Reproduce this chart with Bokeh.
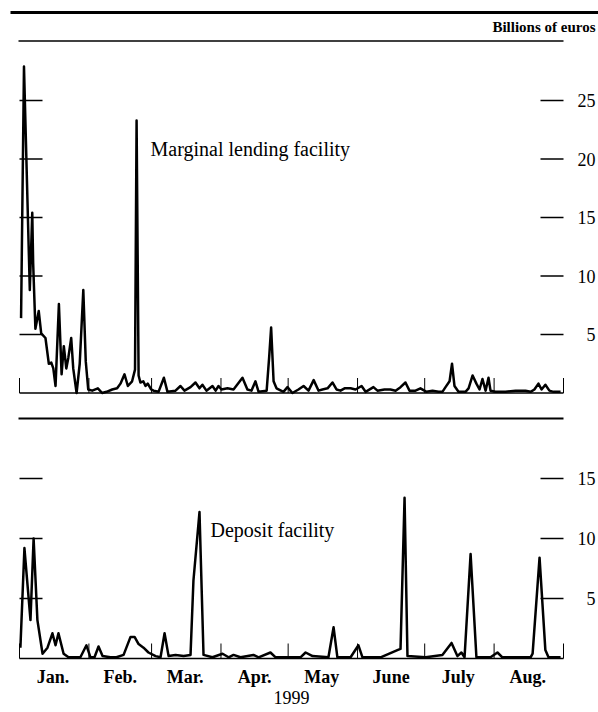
from bokeh.plotting import figure
from bokeh.models import Range1d
from bokeh.core.properties import value
from bokeh.embed import file_html
from bokeh.resources import INLINE

FONT = "Liberation Serif"

# x axis: day of 1999 (0 = 1 Jan)
month_start_days = [0, 31, 59, 90, 120, 151, 181, 212, 243]
month_mid_days = [15, 45, 74, 105, 135, 166, 196, 227]
month_labels = ["Jan.", "Feb.", "Mar.", "Apr.", "May", "June", "July", "Aug."]
year_label = "1999"

top_ticks = [5, 10, 15, 20, 25]
top_tick_labels = ["5", "10", "15", "20", "25"]
bot_ticks = [5, 10, 15]
bot_tick_labels = ["5", "10", "15"]

unit_label = "Billions of euros"
mlf_label = "Marginal lending facility"
dep_label = "Deposit facility"

# Marginal lending facility (billions of euros)
mlf_day = [0.7, 2.0, 4.6, 5.7, 6.1, 7.1, 8.6, 9.7, 11.6, 13.1, 14.2, 15.1, 16.1, 17.6,
           18.8, 19.8, 20.9, 21.8, 23.1, 24.0, 25.5, 26.9, 28.5, 29.6, 30.7, 32.5, 35.0,
           36.9, 38.9, 41.4, 43.6, 45.1, 46.9, 48.4, 50.3, 51.6, 52.3, 53.2, 54.0, 55.3,
           56.3, 57.3, 58.8, 59.9, 62.1, 64.5, 66.1, 69.7, 71.9, 73.7, 76.4, 78.6, 80.4,
           81.7, 83.5, 86.2, 87.6, 88.9, 90.2, 92.9, 95.6, 99.6, 101.8, 103.6, 105.4,
           106.8, 110.4, 111.5, 112.4, 113.5, 114.8, 117.9, 119.7, 121.9, 124.6, 126.9,
           129.1, 131.4, 133.6, 135.3, 137.6, 139.8, 141.6, 143.4, 145.2, 147.9, 150.1,
           152.8, 154.6, 158.1, 159.9, 163.0, 165.7, 168.0, 170.2, 172.4, 174.2, 176.9,
           179.1, 181.8, 184.5, 187.2, 188.9, 190.3, 192.1, 193.2, 194.3, 196.1, 199.2,
           200.6, 202.4, 204.1, 205.5, 206.8, 208.2, 209.5, 210.4, 212.6, 217.1, 221.6,
           226.0, 228.3, 230.0, 231.8, 233.2, 234.9, 236.7, 238.5, 241.7]
mlf_val = [6.4, 27.9, 8.8, 15.4, 11.1, 5.5, 7.0, 5.1, 4.7, 2.5, 2.6, 2.1, 0.6, 7.6,
           1.6, 4.0, 2.1, 3.0, 4.7, 2.1, 0.0, 2.5, 8.8, 2.7, 0.3, 0.2, 0.4,
           0.0, 0.1, 0.3, 0.4, 0.8, 1.6, 0.6, 1.0, 2.0, 23.3, 1.5, 0.9, 1.0,
           0.6, 0.8, 0.3, 0.2, 0.1, 1.3, 0.1, 0.2, 0.6, 0.2, 0.5, 0.9, 0.4,
           0.7, 0.2, 0.6, 0.2, 0.6, 0.3, 0.4, 0.3, 1.3, 0.3, 0.2, 1.0,
           0.1, 0.2, 3.0, 5.6, 1.0, 0.4, 0.1, 0.5, 0.0, 0.3, 0.6,
           0.2, 1.1, 0.2, 0.3, 0.4, 0.9, 0.3, 0.2, 0.4, 0.4, 0.3,
           0.6, 0.1, 0.5, 0.2, 0.3, 0.3, 0.2, 0.5, 0.9, 0.2, 0.2,
           0.4, 0.1, 0.2, 0.1, 0.1, 0.5, 1.0, 2.5, 0.6, 0.1, 0.1,
           0.4, 1.5, 0.8, 0.3, 1.2, 0.2, 1.3, 0.2, 0.1, 0.1, 0.2,
           0.2, 0.1, 0.3, 0.8, 0.3, 0.7, 0.2, 0.1, 0.1]

# Deposit facility (billions of euros)
dep_day = [0.4, 2.2, 4.9, 6.3, 8.0, 10.3, 12.5, 14.7, 16.1, 17.4, 19.7, 21.9, 27.2, 29.9,
           31.7, 33.5, 35.3, 37.1, 40.6, 43.3, 46.5, 49.6, 51.4, 53.2, 55.4, 57.6, 60.8,
           63.0, 64.8, 66.6, 69.7, 73.3, 76.4, 77.7, 80.4, 82.2, 86.2, 90.7, 93.4, 95.6,
           98.7, 104.5, 106.8, 112.1, 114.4, 121.0, 125.5, 127.8, 130.9, 138.0, 140.3,
           142.0, 147.9, 151.4, 153.2, 161.3, 168.8, 170.2, 172.0, 173.3, 181.4, 188.9,
           193.0, 195.6, 197.4, 198.8, 201.5, 204.1, 210.4, 213.5, 215.7, 228.3, 229.2,
           232.3, 234.9, 236.3, 241.7]
dep_val = [0.9, 9.2, 3.2, 10.0, 3.2, 0.4, 0.9, 2.1, 1.1, 2.1, 0.4, 0.1, 0.1, 1.1,
           0.1, 0.1, 1.0, 0.2, 0.1, 0.1, 0.3, 1.8, 1.8, 1.2, 0.9, 0.5, 0.2,
           0.1, 2.1, 0.2, 0.3, 0.2, 0.3, 6.5, 12.2, 0.3, 0.1, 0.4, 0.1, 0.3,
           0.1, 0.3, 0.1, 0.5, 0.1, 0.1, 0.1, 0.5, 0.2, 0.1, 2.6,
           0.1, 0.1, 1.1, 0.1, 0.1, 0.7, 0.8, 13.4, 0.2, 0.1, 0.3,
           1.3, 0.2, 0.5, 0.1, 8.7, 0.1, 0.1, 0.5, 0.1, 0.1, 0.4,
           8.4, 0.7, 0.1, 0.1]

# ---- layout (pixel geometry of the page) ----
W, H = 598, 708
X0_PX, X1_PX = 19, 563          # horizontal extent of the day axis 0..243
DAYS = 243
PPD = (X1_PX - X0_PX) / DAYS
TOP_ZERO_PX, TOP_PPU = 392.5, 11.7
BOT_ZERO_PX, BOT_PPU = 658.0, 12.0


def dx(px):
    return (px - X0_PX) / PPD


def ty(py):
    return (TOP_ZERO_PX - py) / TOP_PPU


def by(py):
    return (BOT_ZERO_PX - py) / BOT_PPU


p = figure(width=W, height=H, output_backend="svg", toolbar_location=None,
           x_range=Range1d(dx(0), dx(W)), y_range=Range1d(ty(H), ty(0)),
           x_axis_location=None, y_axis_location=None,
           min_border_left=0, min_border_right=0, min_border_top=0, min_border_bottom=0)
p.extra_y_ranges = {"bot": Range1d(by(H), by(0))}
p.xgrid.grid_line_color = None
p.ygrid.grid_line_color = None
p.outline_line_color = None
p.background_fill_color = "white"
p.border_fill_color = "white"

TXT = dict(text_font=value(FONT), text_color="black", text_baseline="middle")

# header rules and unit label
p.segment(x0=[dx(10)], y0=[ty(12)], x1=[dx(598)], y1=[ty(12)], line_color="black", line_width=3)
p.segment(x0=[dx(18)], y0=[ty(40.5)], x1=[dx(563)], y1=[ty(40.5)], line_color="black", line_width=1.5)
p.text(x=[dx(595)], y=[ty(26.5)], text=[unit_label], text_font_size="15px",
       text_font_style="bold", text_align="right", **TXT)

# separator between panels
p.segment(x0=[dx(18)], y0=[ty(418)], x1=[dx(563)], y1=[ty(418)], line_color="black", line_width=2)

left_len = dx(42) - dx(19)
right_len = dx(563) - dx(540)
label_x = dx(595)

# ---- top panel: marginal lending facility ----
n = len(top_ticks)
p.segment(x0=[0] * n, y0=top_ticks, x1=[left_len] * n, y1=top_ticks, line_color="black", line_width=1.5)
p.segment(x0=[DAYS - right_len] * n, y0=top_ticks, x1=[DAYS] * n, y1=top_ticks,
          line_color="black", line_width=1.5)
p.text(x=[label_x] * n, y=top_ticks, text=top_tick_labels, text_font_size="18px",
       text_align="right", **TXT)
p.segment(x0=[0], y0=[0], x1=[DAYS], y1=[0], line_color="black", line_width=1.5)
m = len(month_start_days)
p.segment(x0=month_start_days, y0=[0] * m, x1=month_start_days, y1=[15 / TOP_PPU] * m,
          line_color="black", line_width=1)
p.line(mlf_day, mlf_val, line_color="black", line_width=2.5, line_join="round")
p.text(x=[dx(150)], y=[ty(148)], text=[mlf_label], text_font_size="20px", **TXT)

# ---- bottom panel: deposit facility ----
k = len(bot_ticks)
p.segment(x0=[0] * k, y0=bot_ticks, x1=[left_len] * k, y1=bot_ticks, line_color="black",
          line_width=1.5, y_range_name="bot")
p.segment(x0=[DAYS - right_len] * k, y0=bot_ticks, x1=[DAYS] * k, y1=bot_ticks,
          line_color="black", line_width=1.5, y_range_name="bot")
p.text(x=[label_x] * k, y=bot_ticks, text=bot_tick_labels, text_font_size="18px",
       text_align="right", y_range_name="bot", **TXT)
p.segment(x0=[0], y0=[0], x1=[DAYS], y1=[0], line_color="black", line_width=1.5, y_range_name="bot")
p.segment(x0=month_start_days, y0=[0] * m, x1=month_start_days, y1=[15 / BOT_PPU] * m,
          line_color="black", line_width=1, y_range_name="bot")
p.line(dep_day, dep_val, line_color="black", line_width=2.5, line_join="round", y_range_name="bot")
p.text(x=[dx(210)], y=[by(529)], text=[dep_label], text_font_size="20px",
       y_range_name="bot", **TXT)

# month labels and year
p.text(x=month_mid_days, y=[by(676)] * len(month_mid_days), text=month_labels,
       text_font_size="18px", text_font_style="bold", text_align="center",
       y_range_name="bot", **TXT)
p.text(x=[DAYS / 2], y=[by(697)], text=[year_label], text_font_size="18px",
       text_align="center", y_range_name="bot", **TXT)

open("out.html", "w").write(file_html(p, INLINE))
